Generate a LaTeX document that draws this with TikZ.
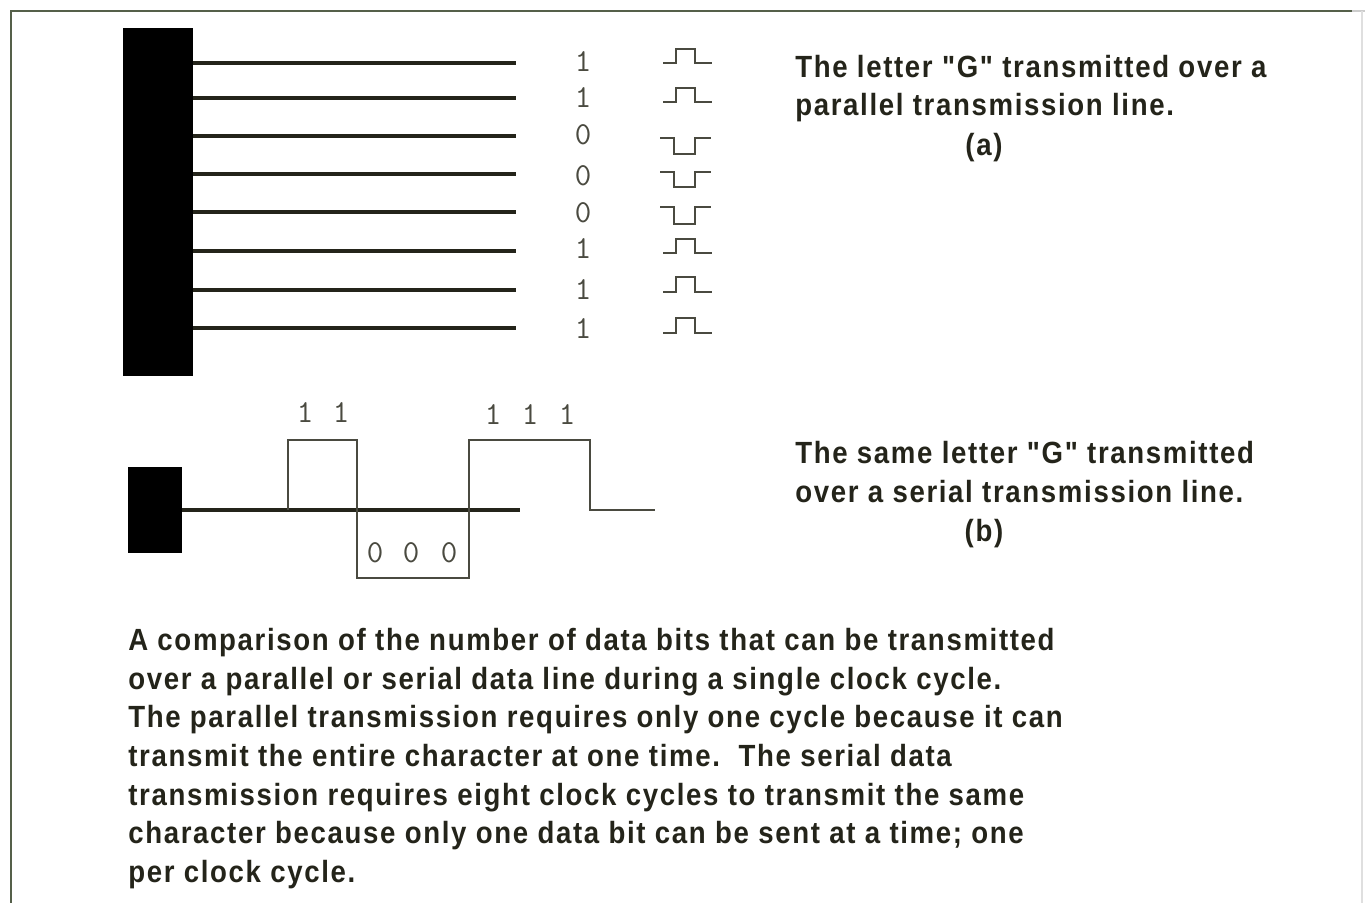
\documentclass[tikz,border=0pt]{standalone}
\usepackage{fontspec}
\newfontfamily\labfont[LetterSpace=5.4,FakeStretch=0.9]{Liberation Sans Bold}
\newfontfamily\digfont{Latin Modern Mono}
\definecolor{ink}{HTML}{24241A}
\definecolor{wave}{HTML}{4A4A40}
\definecolor{frame}{HTML}{55604A}
\begin{document}
\begin{tikzpicture}[x=0.75pt,y=-0.75pt,
  wire/.style={line width=2.4pt,draw=ink},
  pulse/.style={line width=1.6pt,draw=wave},
  sig/.style={line width=1.1pt,draw=wave},
  block/.style={fill=black,draw=none},
  dig/.style={font=\digfont\fontsize{24}{24}\selectfont,text=wave,inner sep=0pt,anchor=center},
  lab/.style={font=\labfont\fontsize{23}{28.8}\selectfont,text=ink,inner sep=0pt,anchor=base west},
  sublab/.style={font=\labfont\fontsize{23}{28.8}\selectfont,text=ink,inner sep=0pt,anchor=base}]
\useasboundingbox (0,0) rectangle (1365,903);
\fill[white] (0,0) rectangle (1365,903);
% frame
\draw[line width=1.5pt,draw=frame] (11,903) -- (11,11) -- (1352,11);
\draw[line width=0.8pt,draw=gray!40] (1352,11) -- (1365,11);
\draw[line width=0.8pt,draw=gray!25] (1362,11) -- (1362,903);
% ---------- parallel ----------
\fill[block] (123,28) rectangle (193,376);
\foreach \y [count=\i] in {63,98,136,174,212,251,290,328}{
  \coordinate (ps\i) at (193,\y);
  \coordinate (pe\i) at (516,\y);
  \draw[wire] (ps\i) -- (pe\i);
}
\foreach \y/\d [count=\i] in {62/1,98/1,135/0,176/0,213/0,249/1,290/1,329/1}{
  \node[dig] (d\i) at (583,\y) {\d};
}
% one-pulses (low y, high y)
\foreach \lo/\hi in {63/49,102/88,253/239,292/277,333/318}{
  \draw[pulse] (663,\lo) -- (676,\lo) -- (676,\hi) -- (695,\hi) -- (695,\lo) -- (712,\lo);
}
% zero-pulses (high y, low y)
\foreach \hi/\lo in {138/154,172/187,207/224}{
  \draw[pulse] (660,\hi) -- (674,\hi) -- (674,\lo) -- (695,\lo) -- (695,\hi) -- (711,\hi);
}
\node[lab] (ta1) at (795,77) {The letter "G" transmitted over a};
\node[lab] (ta2) at (795,115) {parallel transmission line.};
\node[sublab] (ta3) at (984,155) {(a)};
% ---------- serial ----------
\fill[block] (128,467) rectangle (182,553);
\coordinate (ss) at (182,510);
\coordinate (se) at (520,510);
\draw[wire] (ss) -- (se);
\coordinate (w0) at (288,510);
\coordinate (w1) at (288,440);
\coordinate (w2) at (357,440);
\coordinate (w3) at (357,578);
\coordinate (w4) at (469,578);
\coordinate (w5) at (469,440);
\coordinate (w6) at (590,440);
\coordinate (w7) at (590,510);
\coordinate (w8) at (655,510);
\draw[sig] (w0) -- (w1) -- (w2) -- (w3) -- (w4) -- (w5) -- (w6) -- (w7) -- (w8);
\node[dig] (s1) at (305,413) {1};
\node[dig] (s2) at (341,413) {1};
\node[dig] (s3) at (493,415) {1};
\node[dig] (s4) at (530,415) {1};
\node[dig] (s5) at (567,415) {1};
\node[dig] (s6) at (375,553) {0};
\node[dig] (s7) at (411,553) {0};
\node[dig] (s8) at (449,553) {0};
\node[lab] (tb1) at (795,463) {The same letter "G" transmitted};
\node[lab] (tb2) at (795,502) {over a serial transmission line.};
\node[sublab] (tb3) at (984,541) {(b)};
% ---------- paragraph ----------
\foreach \y/\t [count=\i] in {
 650/{A comparison of the number of data bits that can be transmitted},
 689/{over a parallel or serial data line during a single clock cycle.},
 727/{The parallel transmission requires only one cycle because it can},
 766/{transmit the entire character at one time.\ \ The serial data},
 805/{transmission requires eight clock cycles to transmit the same},
 843/{character because only one data bit can be sent at a time; one},
 882/{per clock cycle.}}{
  \node[lab] (p\i) at (128,\y) {\t};
}
\end{tikzpicture}
\end{document}
